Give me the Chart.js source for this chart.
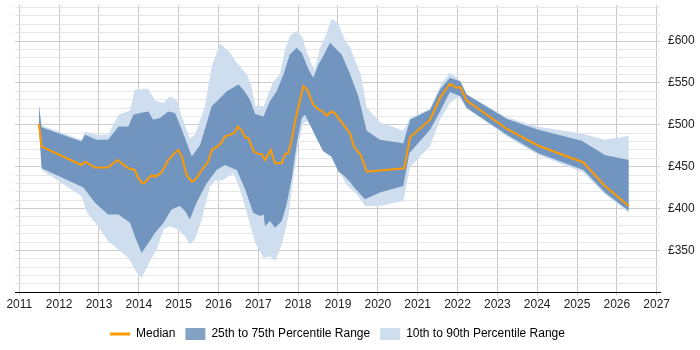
<!DOCTYPE html>
<html>
<head>
<meta charset="utf-8">
<script src="https://cdn.jsdelivr.net/npm/chart.js@4.4.1/dist/chart.umd.min.js"></script>
<style>
    html, body { margin: 0; padding: 0; background: #fff; }
</style>
</head>
<body>
<canvas id="grafica" width="700" height="350"></canvas>
<script>
"use strict";

const yearTicks = [2011, 2012, 2013, 2014, 2015, 2016, 2017, 2018, 2019, 2020, 2021, 2022, 2023, 2024, 2025, 2026, 2027];
const priceLabels = [350, 400, 450, 500, 550, 600];

const medianYears = [2011.49, 2011.56, 2012.56, 2012.65, 2012.90, 2013.23, 2013.46, 2013.74, 2013.90, 2013.99, 2014.09, 2014.15, 2014.26, 2014.34, 2014.41, 2014.57, 2014.74, 2014.91, 2014.99, 2015.08, 2015.20, 2015.33, 2015.41, 2015.58, 2015.74, 2015.83, 2016.00, 2016.08, 2016.16, 2016.29, 2016.41, 2016.48, 2016.58, 2016.67, 2016.75, 2016.89, 2017.00, 2017.08, 2017.17, 2017.31, 2017.42, 2017.59, 2017.67, 2017.75, 2017.84, 2017.92, 2018.13, 2018.23, 2018.38, 2018.51, 2018.59, 2018.72, 2018.84, 2018.92, 2019.01, 2019.30, 2019.40, 2019.57, 2019.72, 2020.66, 2020.81, 2021.31, 2021.56, 2021.81, 2021.98, 2022.07, 2022.23, 2023.24, 2024.03, 2025.16, 2025.70, 2026.30];
const medianValues = [501, 474, 452, 456, 449, 449, 458, 448, 446, 436, 430, 431, 437, 440, 438, 443, 458, 467, 470, 462, 440, 432, 434, 446, 456, 470, 475, 479, 486, 488, 491, 498, 493, 485, 484, 468, 465, 465, 458, 470, 454, 454, 465, 466, 482, 504, 546, 542, 524, 518, 517, 511, 516, 514, 508, 490, 474, 464, 444, 448, 485, 506, 532, 549, 544, 545, 529, 495, 475, 455, 427, 403];

const p90Years = [2011.49, 2011.56, 2012.56, 2012.65, 2012.94, 2013.23, 2013.49, 2013.78, 2013.90, 2014.24, 2014.41, 2014.62, 2014.78, 2014.95, 2015.08, 2015.28, 2015.41, 2015.66, 2015.83, 2016.04, 2016.29, 2016.46, 2016.71, 2016.83, 2016.92, 2017.13, 2017.38, 2017.54, 2017.67, 2017.79, 2017.96, 2018.09, 2018.21, 2018.34, 2018.42, 2018.55, 2018.72, 2018.84, 2019.01, 2019.18, 2019.30, 2019.57, 2019.72, 2020.05, 2020.64, 2020.81, 2021.31, 2021.60, 2021.81, 2021.98, 2022.10, 2022.23, 2023.24, 2023.99, 2025.16, 2025.70, 2026.30];
const p90Values = [526, 499, 482, 492, 488, 488, 512, 517, 542, 543, 529, 526, 534, 530, 510, 484, 488, 522, 570, 597, 586, 574, 560, 546, 523, 522, 552, 560, 590, 606, 612, 606, 588, 572, 566, 592, 610, 627, 621, 600, 593, 560, 521, 503, 493, 508, 519, 550, 562, 556, 550, 536, 509, 498, 489, 482, 487];

const p75Years = [2011.49, 2011.56, 2012.56, 2012.65, 2012.94, 2013.23, 2013.49, 2013.74, 2013.86, 2014.03, 2014.24, 2014.36, 2014.53, 2014.74, 2014.91, 2015.08, 2015.33, 2015.54, 2015.83, 2016.21, 2016.50, 2016.62, 2016.79, 2016.92, 2017.13, 2017.29, 2017.46, 2017.63, 2017.79, 2017.96, 2018.09, 2018.26, 2018.38, 2018.51, 2018.63, 2018.80, 2018.92, 2019.09, 2019.30, 2019.51, 2019.72, 2020.05, 2020.64, 2020.81, 2021.31, 2021.56, 2021.81, 2022.07, 2022.23, 2023.24, 2024.03, 2025.12, 2025.70, 2026.30];
const p75Values = [524, 497, 480, 488, 482, 482, 498, 498, 512, 514, 516, 506, 508, 516, 514, 494, 462, 476, 522, 540, 548, 542, 530, 513, 510, 528, 540, 560, 584, 592, 586, 566, 556, 572, 582, 598, 592, 584, 561, 534, 493, 482, 478, 506, 518, 542, 556, 552, 536, 507, 494, 481, 464, 458];

const p25Years = [2011.49, 2011.56, 2012.61, 2012.90, 2013.23, 2013.49, 2013.78, 2013.90, 2014.07, 2014.24, 2014.41, 2014.62, 2014.82, 2015.03, 2015.16, 2015.28, 2015.45, 2015.70, 2015.95, 2016.16, 2016.46, 2016.67, 2016.87, 2017.04, 2017.13, 2017.17, 2017.29, 2017.42, 2017.59, 2017.71, 2017.84, 2017.96, 2018.09, 2018.17, 2018.30, 2018.46, 2018.63, 2018.84, 2019.01, 2019.13, 2019.30, 2019.43, 2019.68, 2020.05, 2020.64, 2020.79, 2021.31, 2021.56, 2021.81, 2022.07, 2022.23, 2023.24, 2024.03, 2025.16, 2025.70, 2026.30];
const p25Values = [500, 448, 425, 407, 393, 393, 383, 367, 347, 359, 371, 383, 399, 403, 397, 387, 407, 430, 446, 452, 446, 423, 395, 391, 393, 379, 385, 377, 385, 405, 436, 476, 508, 512, 500, 484, 468, 462, 444, 440, 432, 424, 411, 419, 427, 466, 494, 516, 539, 534, 520, 488, 466, 446, 419, 397];

const p10Years = [2011.49, 2011.56, 2012.56, 2012.70, 2012.94, 2013.23, 2013.44, 2013.74, 2013.95, 2014.07, 2014.28, 2014.45, 2014.62, 2014.78, 2014.99, 2015.16, 2015.28, 2015.41, 2015.58, 2015.79, 2015.91, 2016.12, 2016.37, 2016.54, 2016.71, 2016.92, 2017.13, 2017.29, 2017.42, 2017.59, 2017.75, 2017.88, 2018.00, 2018.13, 2018.23, 2018.38, 2018.59, 2018.80, 2019.01, 2019.22, 2019.47, 2019.68, 2020.05, 2020.64, 2020.81, 2021.31, 2021.56, 2021.81, 2022.02, 2022.23, 2023.24, 2024.03, 2025.16, 2025.70, 2026.30];
const p10Values = [498, 446, 415, 395, 381, 361, 353, 341, 323, 317, 337, 351, 375, 379, 375, 367, 357, 363, 387, 427, 433, 434, 442, 423, 395, 359, 341, 343, 337, 357, 389, 436, 476, 502, 504, 492, 472, 462, 446, 428, 417, 403, 403, 409, 450, 474, 506, 526, 534, 520, 486, 464, 443, 417, 395];

document.addEventListener("DOMContentLoaded", () => {
    const grafica = document.querySelector("#grafica");

    const orange = "#ff9900";
    const darkBand = "rgba(55, 105, 160, 0.62)";
    const lightBand = "rgb(207, 222, 239)";

    const puntos = (xs, ys) => xs.map((x, i) => ({ x: x, y: ys[i] }));

    Chart.defaults.font.family = "'Liberation Sans', Arial, sans-serif";
    Chart.defaults.font.size = 12;
    Chart.defaults.color = "#333";

    const bandLine = {
        pointRadius: 0,
        borderWidth: 0,
        tension: 0,
    };

    new Chart(grafica, {
        type: "line",
        data: {
            datasets: [
                {
                    label: "Median",
                    data: puntos(medianYears, medianValues),
                    borderColor: orange,
                    backgroundColor: orange,
                    borderWidth: 2,
                    pointRadius: 0,
                    tension: 0,
                    fill: false,
                },
                {
                    label: "25th to 75th Percentile Range",
                    data: puntos(p75Years, p75Values),
                    backgroundColor: darkBand,
                    fill: "+1",
                    ...bandLine,
                },
                {
                    label: "p25",
                    data: puntos(p25Years, p25Values),
                    backgroundColor: darkBand,
                    fill: false,
                    ...bandLine,
                },
                {
                    label: "10th to 90th Percentile Range",
                    data: puntos(p90Years, p90Values),
                    backgroundColor: lightBand,
                    fill: "+1",
                    ...bandLine,
                },
                {
                    label: "p10",
                    data: puntos(p10Years, p10Values),
                    backgroundColor: lightBand,
                    fill: false,
                    ...bandLine,
                },
            ],
        },
        options: {
            responsive: false,
            animation: false,
            layout: {
                padding: { left: 15, right: 5, top: 5, bottom: 0 },
            },
            scales: {
                x: {
                    type: "linear",
                    min: 2010.892,
                    max: 2027.083,
                    afterBuildTicks: (scale) => {
                        scale.ticks = yearTicks.map((v) => ({ value: v }));
                    },
                    afterFit: (scale) => {
                        scale.paddingLeft = 0;
                        scale.paddingRight = 0;
                        scale.height = 25.7;
                    },
                    ticks: {
                        autoSkip: false,
                        maxRotation: 0,
                        padding: 2,
                        color: "#222",
                        callback: (v) => String(v),
                    },
                    grid: {
                        color: "#c8c8c8",
                        tickLength: 3,
                    },
                    border: { color: "#000" },
                },
                y: {
                    position: "right",
                    min: 300,
                    max: 643,
                    afterBuildTicks: (scale) => {
                        const ticks = [];
                        for (let v = 300; v <= 640; v += 10) ticks.push({ value: v });
                        scale.ticks = ticks;
                    },
                    afterFit: (scale) => {
                        scale.paddingTop = 0;
                        scale.paddingBottom = 0;
                        scale.width = 35;
                    },
                    ticks: {
                        autoSkip: false,
                        padding: 8,
                        color: "#222",
                        callback: (v) => (priceLabels.includes(v) ? "£" + v : ""),
                    },
                    grid: {
                        drawTicks: false,
                        color: (ctx) => (ctx.tick && ctx.tick.value % 50 === 0 ? "#cccccc" : "#e6e6e6"),
                    },
                    border: { display: false },
                },
            },
            plugins: {
                tooltip: { enabled: false },
                legend: {
                    position: "bottom",
                    fullSize: false,
                    labels: {
                        usePointStyle: true,
                        pointStyleWidth: 20,
                        boxWidth: 20,
                        boxHeight: 12,
                        padding: 10,
                        color: "#222",
                        generateLabels: () => [
                            { text: "Median", pointStyle: "line", strokeStyle: orange, fillStyle: orange, lineWidth: 3 },
                            { text: "25th to 75th Percentile Range", pointStyle: "rect", strokeStyle: darkBand, fillStyle: darkBand, lineWidth: 0 },
                            { text: "10th to 90th Percentile Range", pointStyle: "rect", strokeStyle: lightBand, fillStyle: lightBand, lineWidth: 0 },
                        ],
                    },
                },
            },
        },
    });
});
</script>
</body>
</html>
